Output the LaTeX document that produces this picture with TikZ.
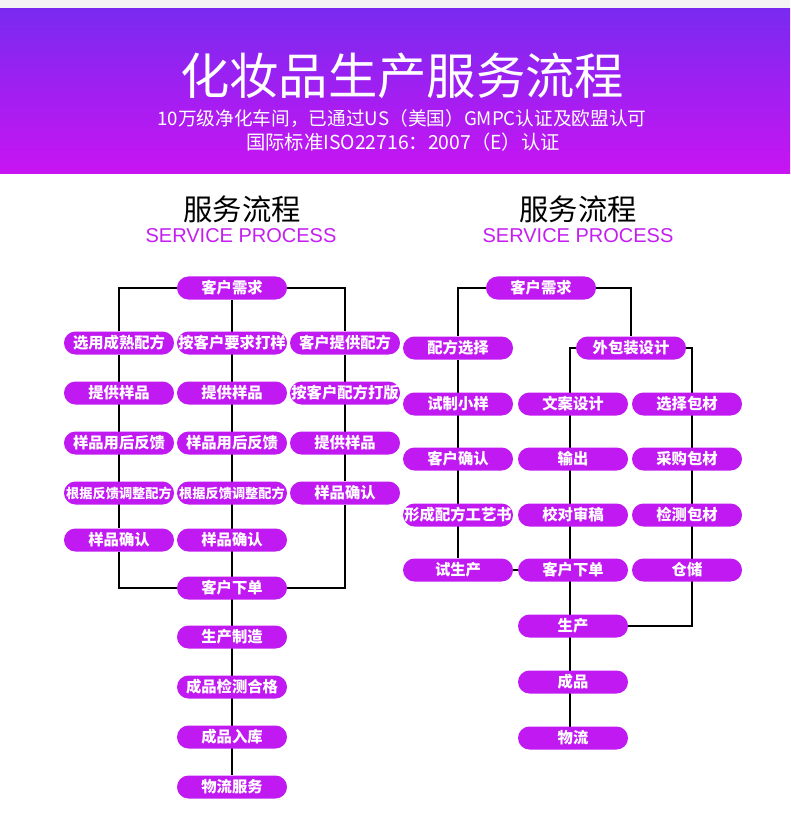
\documentclass[tikz,border=0pt]{standalone}
\usepackage{fontspec}
\setmainfont{Noto Sans CJK SC}
\newfontfamily\latinfont{Liberation Sans}
\usetikzlibrary{backgrounds}
\definecolor{stripgray}{RGB}{244,244,244}
\definecolor{bannertop}{RGB}{122,42,240}
\definecolor{bannerbottom}{RGB}{200,20,242}
\definecolor{pillfill}{RGB}{193,25,242}
\definecolor{engpurple}{RGB}{196,30,240}

\begin{document}
\begin{tikzpicture}[
    x=0.75pt, y=-0.75pt,
    every node/.style={inner sep=1pt},
    stage/.style={rounded corners=8.6pt, fill=pillfill, text=white, minimum width=82.5pt, minimum height=17.25pt, font=\bfseries\fontsize{11.5}{12}\selectfont},
    narrow/.style={font=\bfseries\fontsize{9.9}{11}\selectfont},
    link/.style={line width=1.5pt, black}
]
\useasboundingbox (0,0) rectangle (790,816);

% Banner
\fill[stripgray] (0,0) rectangle (790,9);
\shade[top color=bannertop, bottom color=bannerbottom] (0,9) rectangle (790,174);
\node[text=white, font=\fontsize{37}{40}\selectfont] (title) at (402,76) {化妆品生产服务流程};
\node[text=white, font=\fontsize{14}{16}\selectfont] (subA) at (402,119) {10万级净化车间，已通过US（美国）GMPC认证及欧盟认可};
\node[text=white, font=\fontsize{14.5}{16}\selectfont] (subB) at (403,142) {国际标准ISO22716：2007（E）认证};

% Section heads
\node[font=\fontsize{22}{24}\selectfont] (lhead) at (242,209) {服务流程};
\node[text=engpurple, font=\latinfont\fontsize{15}{17}\selectfont] (lheadEn) at (241,236) {SERVICE PROCESS};
\node[font=\fontsize{22}{24}\selectfont] (rhead) at (578,209) {服务流程};
\node[text=engpurple, font=\latinfont\fontsize{15}{17}\selectfont] (rheadEn) at (578,236) {SERVICE PROCESS};

% Left chart
\node[stage] (ldemand) at (232,288) {客户需求};
\node[stage] (lpick) at (119,343) {选用成熟配方};
\node[stage] (lmake) at (232,343) {按客户要求打样};
\node[stage] (lgiven) at (345,343) {客户提供配方};
\node[stage] (lsampleA) at (119,393) {提供样品};
\node[stage] (lsampleB) at (232,393) {提供样品};
\node[stage] (lproof) at (345,393) {按客户配方打版};
\node[stage] (lfeedA) at (119,443) {样品用后反馈};
\node[stage] (lfeedB) at (232,443) {样品用后反馈};
\node[stage] (lsampleC) at (345,443) {提供样品};
\node[stage, narrow] (ladjustA) at (119,493) {根据反馈调整配方};
\node[stage, narrow] (ladjustB) at (232,493) {根据反馈调整配方};
\node[stage] (lokC) at (345,493) {样品确认};
\node[stage] (lokA) at (119,540) {样品确认};
\node[stage] (lokB) at (232,540) {样品确认};
\node[stage] (lorder) at (232,588) {客户下单};
\node[stage] (lmfg) at (232,637) {生产制造};
\node[stage] (lqc) at (232,687) {成品检测合格};
\node[stage] (lstock) at (232,737) {成品入库};
\node[stage] (lship) at (232,787) {物流服务};

% Right chart
\node[stage] (rdemand) at (541,288) {客户需求};
\node[stage] (rform) at (458,348) {配方选择};
\node[stage] (rpack) at (631,348) {外包装设计};
\node[stage] (rtest) at (458,404) {试制小样};
\node[stage] (rcopy) at (573,404) {文案设计};
\node[stage] (rchoose) at (687,404) {选择包材};
\node[stage] (rconfirm) at (458,459) {客户确认};
\node[stage] (rprint) at (573,459) {输出};
\node[stage] (rbuy) at (687,459) {采购包材};
\node[stage] (rbook) at (458,515) {形成配方工艺书};
\node[stage] (rcheck) at (573,515) {校对审稿};
\node[stage] (rinspect) at (687,515) {检测包材};
\node[stage] (rtrial) at (458,570) {试生产};
\node[stage] (rorder) at (573,570) {客户下单};
\node[stage] (rstore) at (687,570) {仓储};
\node[stage] (rprod) at (573,626) {生产};
\node[stage] (rdone) at (573,682) {成品};
\node[stage] (rship) at (573,738) {物流};
\coordinate (packL) at (570,348);
\coordinate (packR) at (692,348);

% Connectors
\begin{scope}[on background layer]
\fill[white] (0,174) rectangle (790,816);
\draw[link] (lpick) |- (ldemand) -| (lgiven);
\draw[link] (lpick) -- (lokA) |- (lorder);
\draw[link] (lgiven) -- (lokC) |- (lorder);
\draw[link] (ldemand) -- (lship);
\draw[link] (rform) |- (rdemand) -| (rpack);
\draw[link] (rform) -- (rtrial) -- (rorder);
\draw[link] (rpack) -- (packL) -- (packL |- rship);
\draw[link] (rpack) -- (packR) |- (rprod);
\end{scope}
\end{tikzpicture}
\end{document}
